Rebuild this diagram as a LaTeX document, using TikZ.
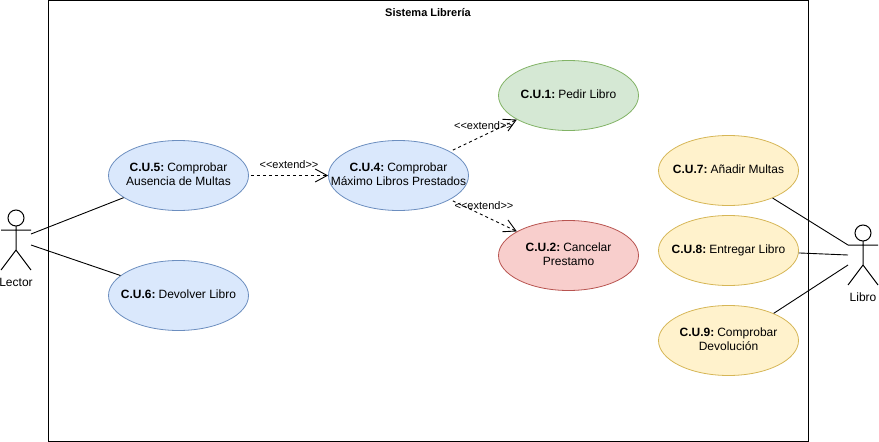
\documentclass[tikz,border=0pt]{standalone}
\usepackage{fontspec}
\setmainfont{Liberation Sans}
\usetikzlibrary{shapes.geometric,arrows.meta,calc}
\definecolor{bluefill}{HTML}{DAE8FC}\definecolor{blueline}{HTML}{6C8EBF}
\definecolor{greenfill}{HTML}{D5E8D4}\definecolor{greenline}{HTML}{82B366}
\definecolor{redfill}{HTML}{F8CECC}\definecolor{redline}{HTML}{B85450}
\definecolor{yellowfill}{HTML}{FFF2CC}\definecolor{yellowline}{HTML}{D6B656}
\newcommand{\cutag}[1]{\textbf{C.U.#1:}\hspace{3pt}}
\tikzset{
  usecase/.style={ellipse,draw,line width=0.8pt,minimum width=140pt,minimum height=70pt,inner xsep=-60pt,inner ysep=-12pt,align=center,font=\fontsize{12}{13.8}\selectfont},
  oneline/.style={text height=8pt,text depth=2pt},
  twoline/.style={text height=22pt,text depth=2pt},
  ucblue/.style={usecase,fill=bluefill,draw=blueline},
  ucgreen/.style={usecase,fill=greenfill,draw=greenline},
  ucred/.style={usecase,fill=redfill,draw=redline},
  ucyellow/.style={usecase,fill=yellowfill,draw=yellowline},
  actorbox/.style={minimum width=30pt,minimum height=60pt,inner sep=0pt,outer sep=0pt},
  actorline/.style={line width=1pt,black},
  assoc/.style={line width=0.9pt,black},
  extendline/.style={line width=0.9pt,dash pattern=on 3pt off 3pt,-{Straight Barb[length=12pt,width=13pt,line width=0.9pt]}},
  smalltext/.style={font=\fontsize{11}{13}\selectfont,inner sep=0pt},
  actortext/.style={font=\fontsize{12}{14}\selectfont,inner sep=0pt},
}
\begin{document}
\begin{tikzpicture}[x=1pt,y=-1pt]
\useasboundingbox (0,0) rectangle (879,442);
\node[draw,line width=1pt,minimum width=760pt,minimum height=441pt,inner sep=0pt,outer sep=0pt] (frame) at (428.5,220.5) {};
\node[smalltext,font=\fontsize{11}{13}\selectfont\bfseries] (title) at (428,13) {Sistema Librería};
\node[ucgreen,oneline] (c1) at (568.5,95.5) {\cutag{1}Pedir Libro};
\node[ucred,twoline] (c2) at (568.5,255.5) {\cutag{2}Cancelar\\Prestamo};
\node[ucblue,twoline] (c4) at (398.5,175.5) {\cutag{4}Comprobar\\Máximo Libros Prestados};
\node[ucblue,twoline] (c5) at (178.5,175.5) {\cutag{5}Comprobar\\Ausencia de Multas};
\node[ucblue,oneline] (c6) at (178.5,295.5) {\cutag{6}Devolver Libro};
\node[ucyellow,oneline] (c7) at (728.5,170.5) {\cutag{7}Añadir Multas};
\node[ucyellow,oneline] (c8) at (728.5,250.5) {\cutag{8}Entregar Libro};
\node[ucyellow,twoline] (c9) at (728.5,340.5) {\cutag{9}Comprobar\\Devolución};
% actors
\node[actorbox] (lector) at (16,240) {};
\draw[actorline] (16,218) circle (8pt);
\draw[actorline] (lector.north) ++(0,16) -- ++(0,24) ++(-15,-20) -- ++(30,0) ++(-15,20) -- (lector.south west) ++(15,-20) -- (lector.south east);
\node[actortext] (lectorlabel) at (16,282) {Lector};
\node[actorbox] (libro) at (863,255) {};
\draw[actorline] (863,233) circle (8pt);
\draw[actorline] (libro.north) ++(0,16) -- ++(0,24) ++(-15,-20) -- ++(30,0) ++(-15,20) -- (libro.south west) ++(15,-20) -- (libro.south east);
\node[actortext] (librolabel) at (863,297) {Libro};
% associations
\draw[assoc] ($(lector.east)+(0,-6)$) -- (c5.202);
\draw[assoc] ($(lector.east)+(0,5)$) -- (c6.161);
\draw[assoc] (c7.328.5) -- ($(libro.west)+(0,-10)$);
\draw[assoc] (c8.358) -- (libro.west);
\draw[assoc] (c9.31.5) -- ($(libro.west)+(0,10)$);
% extends
\draw[extendline] ($(c5.east)+(2,0)$) -- (c4.west);
\draw[extendline,shorten <=3pt] (c4.25) -- (c1.205);
\draw[extendline,shorten <=3pt] (c4.335) -- (c2.155);
\node[smalltext] (e1) at (289,165) {<{}<extend>{}>};
\node[smalltext] (e2) at (483.5,126) {<{}<extend>{}>};
\node[smalltext] (e3) at (484,206) {<{}<extend>{}>};
\end{tikzpicture}
\end{document}
